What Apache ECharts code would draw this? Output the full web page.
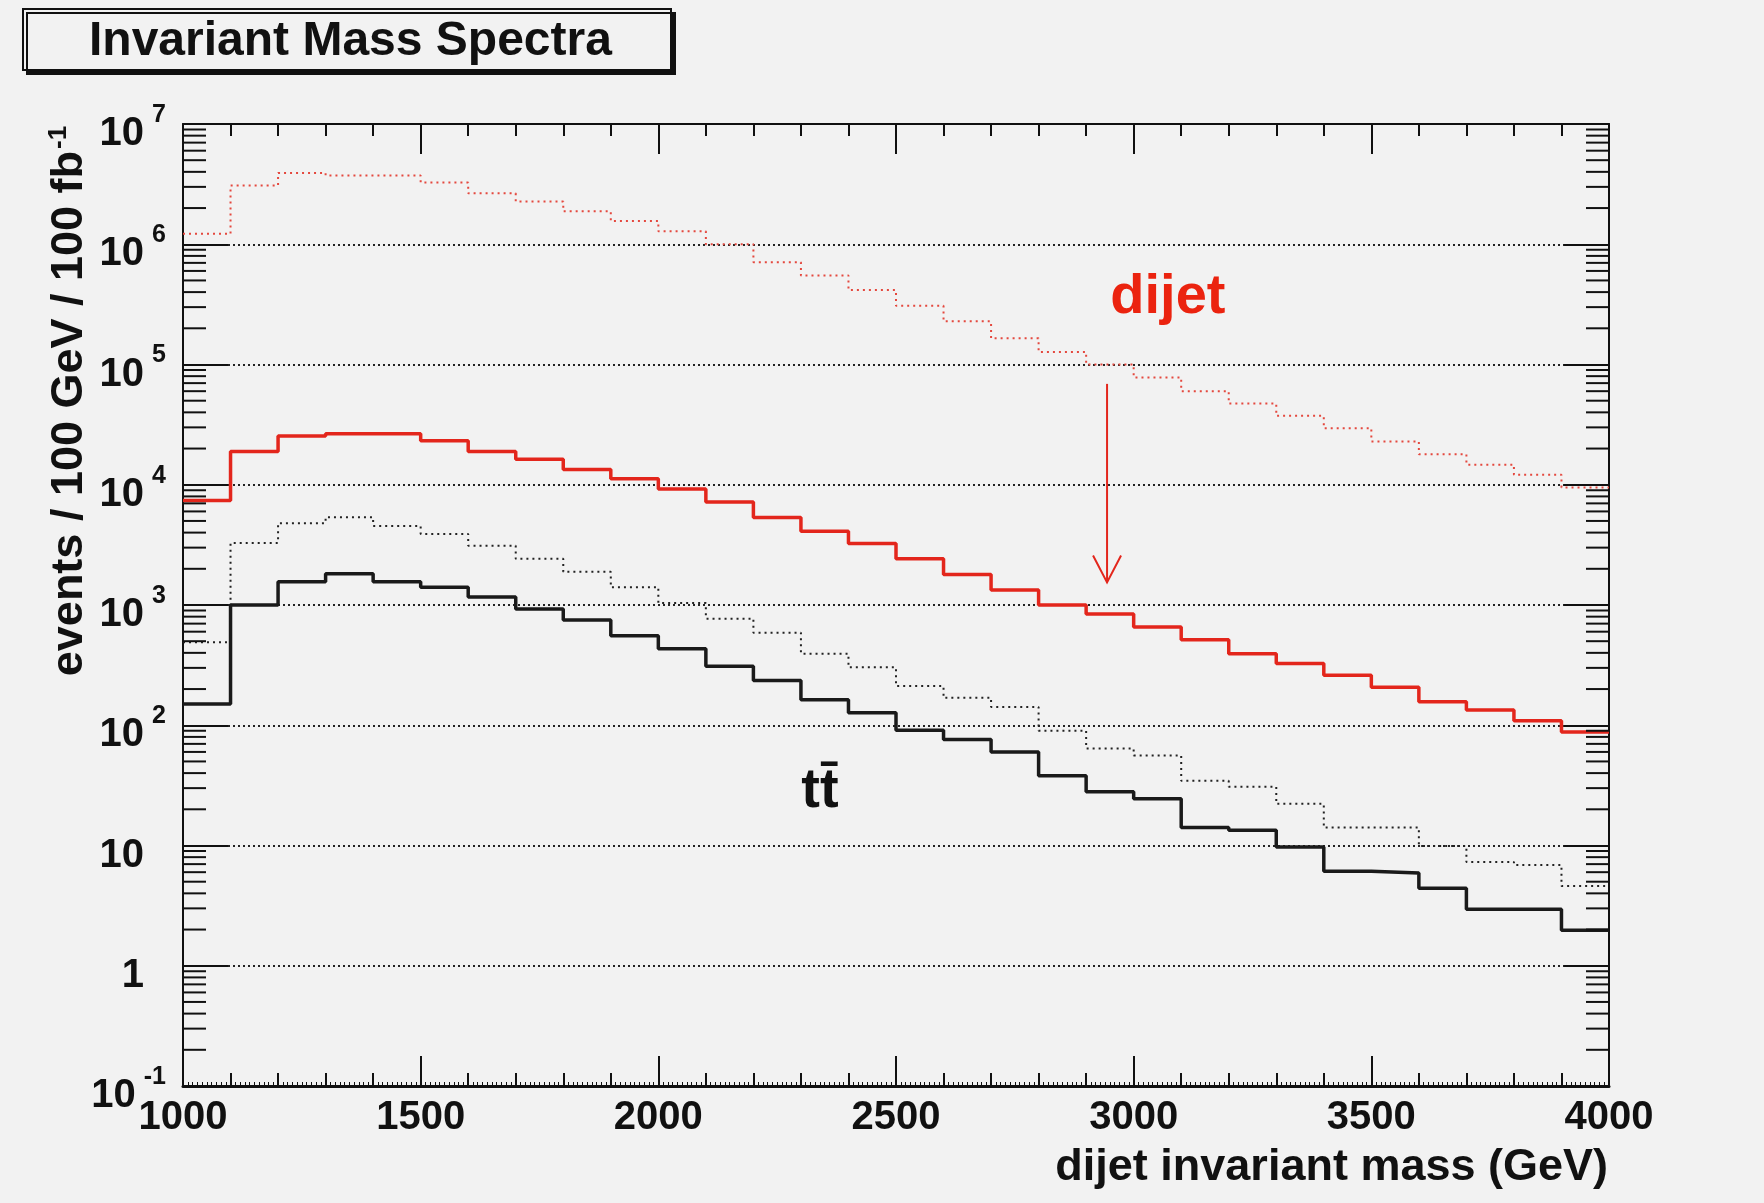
<!DOCTYPE html>
<html>
<head>
<meta charset="utf-8">
<script src="https://cdn.jsdelivr.net/npm/echarts@6/dist/echarts.min.js"></script>
<style>
  html, body { margin: 0; padding: 0; background: #f2f2f2; }
  #chart { width: 1764px; height: 1203px; }
</style>
</head>
<body>
<div id="chart"></div>
<script>
// ---------------- data ----------------
const binEdges = [1000, 1100, 1200, 1300, 1400, 1500, 1600, 1700, 1800, 1900,
                  2000, 2100, 2200, 2300, 2400, 2500, 2600, 2700, 2800, 2900,
                  3000, 3100, 3200, 3300, 3400, 3500, 3600, 3700, 3800, 3900, 4000];

// dijet background, before cut (red dotted)
const dijetBefore = [1.22e6, 3.08e6, 3.92e6, 3.73e6, 3.73e6, 3.26e6, 2.65e6, 2.27e6, 1.88e6, 1.56e6,
                     1.28e6, 1.0e6, 7.1e5, 5.5e5, 4.16e5, 3.08e5, 2.29e5, 1.65e5, 1.27e5, 1.0e5,
                     7.8e4, 6.0e4, 4.73e4, 3.74e4, 2.95e4, 2.29e4, 1.79e4, 1.47e4, 1.21e4, 9.5e3];
// dijet background, after cut (red solid)
const dijetAfter = [7.4e3, 1.89e4, 2.54e4, 2.66e4, 2.66e4, 2.32e4, 1.89e4, 1.63e4, 1.34e4, 1.12e4,
                    9.2e3, 7.2e3, 5.33e3, 4.11e3, 3.24e3, 2.43e3, 1.79e3, 1.33e3, 1.0e3, 840,
                    655, 514, 394, 327, 260, 207, 157, 134, 109, 88];
// ttbar, before cut (black dotted)
const ttbarBefore = [490, 3280, 4790, 5370, 4540, 3900, 3115, 2423, 1888, 1405,
                     1038, 770, 589, 394, 303, 212, 169, 142, 90, 64,
                     56, 34.5, 30.8, 22.2, 14.1, 14.1, 9.9, 7.3, 6.9, 4.6];
// ttbar, after cut (black solid)
const ttbarAfter = [150, 1000, 1563, 1820, 1563, 1405, 1164, 927, 750, 554,
                    432, 310, 236, 163, 127, 91, 76, 60, 38, 28,
                    24.5, 14.1, 13.4, 9.7, 6.1, 5.9, 4.4, 2.95, 2.95, 1.97];

// axis ticks
const xTickLabels = [1000, 1500, 2000, 2500, 3000, 3500, 4000];
const yExponents = [-1, 0, 1, 2, 3, 4, 5, 6, 7];
const logMinorMultipliers = [2, 3, 4, 5, 6, 7, 8, 9];

// annotations (data coordinates)
const annotationText = ['dijet', 'tt\u0304'];
const annotationX = [3072, 2340];
const annotationY = [3.57e5, 27.9];
const arrowX = [2944];
const arrowFrom = [6.9e4];
const arrowTo = [1.54e3];

// ---------------- build ----------------
const FONT = '"Liberation Sans", Arial, Helvetica, sans-serif';
const RED = '#e3261c';
const INK = '#111111';

function stepData(values) {
  return binEdges.map((e, i) => [e, values[Math.min(i, values.length - 1)]]);
}

const minorTickValues = [];
yExponents.slice(0, -1).forEach(e => {
  logMinorMultipliers.forEach(m => minorTickValues.push([binEdges[0], m * Math.pow(10, e)]));
});

const chart = echarts.init(document.getElementById('chart'), null, { renderer: 'canvas' });

const yLabelRich = {
  m: { fontSize: 40, fontWeight: 'bold', fontFamily: FONT, color: INK, lineHeight: 40, padding: [20, 0, 0, 0] },
  s: { fontSize: 25, fontWeight: 'bold', fontFamily: FONT, color: INK, lineHeight: 25, padding: [0, 0, 18, 8] },
  p: { fontSize: 25, fontFamily: FONT, color: 'rgba(0,0,0,0)', lineHeight: 25, width: 22, padding: [0, 0, 18, 0] }
};

const option = {
  backgroundColor: '#f2f2f2',
  animation: false,
  title: {
    text: 'Invariant Mass Spectra',
    left: 89, top: 18, padding: 0,
    textStyle: { fontSize: 48, fontWeight: 'bold', fontFamily: FONT, color: INK, lineHeight: 48 },
    z: 10
  },
  graphic: [
    {
      type: 'rect', z: 1,
      shape: { x: 23, y: 9, width: 648, height: 61 },
      style: { fill: '#f2f2f2', stroke: INK, lineWidth: 2, shadowColor: '#111', shadowOffsetX: 4, shadowOffsetY: 4, shadowBlur: 0 }
    },
    {
      type: 'text', z: 10,
      x: 70, y: 401, rotation: Math.PI / 2,
      style: {
        text: '{m|events / 100 GeV / 100 fb}{s|-1}',
        align: 'center', verticalAlign: 'middle',
        rich: {
          m: { fontSize: 45, fontWeight: 'bold', fontFamily: FONT, fill: INK, lineHeight: 45 },
          s: { fontSize: 26, fontWeight: 'bold', fontFamily: FONT, fill: INK, lineHeight: 26, padding: [0, 0, 22, 2] }
        }
      }
    },
    {
      type: 'text', z: 10,
      x: 1608, y: 1168,
      style: {
        text: 'dijet invariant mass (GeV)',
        fill: INK, font: 'bold 45px ' + FONT, align: 'right', verticalAlign: 'middle'
      }
    }
  ],
  grid: { left: 183, top: 124, right: 155, bottom: 117, containLabel: false, outerBoundsMode: 'none' },
  xAxis: [
    {
      type: 'value', position: 'bottom', min: 1000, max: 4000, interval: 500,
      axisLine: { show: true, lineStyle: { color: INK, width: 3 } },
      axisTick: { show: true, inside: true, length: 30, lineStyle: { color: INK, width: 2 } },
      minorTick: { show: true, splitNumber: 5, length: 13, lineStyle: { color: INK, width: 2 } },
      axisLabel: { show: true, margin: 12, fontSize: 40, fontWeight: 'bold', fontFamily: FONT, color: INK, lineHeight: 40,
                   formatter: v => xTickLabels.includes(v) ? String(v) : '' },
      splitLine: { show: false }, minorSplitLine: { show: false }
    },
    {
      type: 'value', position: 'top', min: 1000, max: 4000, interval: 500,
      axisLine: { show: true, lineStyle: { color: INK, width: 2 } },
      axisTick: { show: true, inside: true, length: 30, lineStyle: { color: INK, width: 2 } },
      minorTick: { show: true, splitNumber: 5, length: 12, lineStyle: { color: INK, width: 2 } },
      axisLabel: { show: false }, splitLine: { show: false }
    },
    {
      type: 'value', position: 'bottom', min: 1000, max: 4000, interval: 100,
      axisLine: { show: false },
      axisTick: { show: false, inside: true },
      minorTick: { show: true, splitNumber: 10, length: 4, lineStyle: { color: INK, width: 1 } },
      axisLabel: { show: false }, splitLine: { show: false }
    }
  ],
  yAxis: [
    {
      type: 'log', logBase: 10, min: 0.1, max: 1e7, position: 'left', splitNumber: 8,
      axisLine: { show: true, lineStyle: { color: INK, width: 2 } },
      axisTick: { show: true, inside: true, length: 45, lineStyle: { color: INK, width: 2 } },
      axisLabel: {
        show: true, margin: 17,
        formatter: v => {
          const e = Math.round(Math.log10(v));
          if (!yExponents.includes(e)) return '';
          if (e === 0) return '{m|1}{p| }';
          if (e === 1) return '{m|10}{p| }';
          return '{m|10}{s|' + e + '}';
        },
        rich: yLabelRich
      },
      splitLine: { show: true, lineStyle: { color: '#222', width: 2, type: [2, 3] } }
    },
    {
      type: 'log', logBase: 10, min: 0.1, max: 1e7, position: 'right', splitNumber: 8,
      axisLine: { show: true, lineStyle: { color: INK, width: 2 } },
      axisTick: { show: true, inside: true, length: 45, lineStyle: { color: INK, width: 2 } },
      axisLabel: { show: false }, splitLine: { show: false }
    }
  ],
  series: [
    {
      name: 'dijet (before cut)', type: 'line', step: 'end', xAxisIndex: 0, yAxisIndex: 0,
      data: stepData(dijetBefore), symbol: 'none', z: 3,
      lineStyle: { color: '#e4483e', width: 2, type: [2, 4] }
    },
    {
      name: 'ttbar (before cut)', type: 'line', step: 'end', xAxisIndex: 0, yAxisIndex: 0,
      data: stepData(ttbarBefore), symbol: 'none', z: 3,
      lineStyle: { color: '#222', width: 2, type: [2, 4] }
    },
    {
      name: 'dijet (after cut)', type: 'line', step: 'end', xAxisIndex: 0, yAxisIndex: 0,
      data: stepData(dijetAfter), symbol: 'none', z: 4,
      lineStyle: { color: RED, width: 3.5 }
    },
    {
      name: 'ttbar (after cut)', type: 'line', step: 'end', xAxisIndex: 0, yAxisIndex: 0,
      data: stepData(ttbarAfter), symbol: 'none', z: 4,
      lineStyle: { color: '#1a1a1a', width: 3.5 }
    },
    {
      name: 'log minor ticks', type: 'custom', xAxisIndex: 0, yAxisIndex: 0, silent: true, z: 5,
      data: minorTickValues, encode: { x: 0, y: 1 },
      renderItem: (params, api) => {
        const yv = api.value(1);
        const pl = api.coord([1000, yv]);
        const pr = api.coord([4000, yv]);
        const st = { stroke: INK, lineWidth: 2 };
        return {
          type: 'group', children: [
            { type: 'line', shape: { x1: pl[0], y1: pl[1], x2: pl[0] + 23, y2: pl[1] }, style: st },
            { type: 'line', shape: { x1: pr[0] - 23, y1: pr[1], x2: pr[0], y2: pr[1] }, style: st }
          ]
        };
      }
    },
    {
      name: 'arrow', type: 'custom', xAxisIndex: 0, yAxisIndex: 0, silent: true, z: 6,
      data: arrowX.map((x, i) => [x, arrowFrom[i], arrowTo[i]]),
      encode: { x: 0, y: [1, 2] },
      renderItem: (params, api) => {
        const p1 = api.coord([api.value(0), api.value(1)]);
        const p2 = api.coord([api.value(0), api.value(2)]);
        return {
          type: 'group', children: [
            { type: 'line', shape: { x1: p1[0], y1: p1[1], x2: p2[0], y2: p2[1] }, style: { stroke: RED, lineWidth: 2 } },
            { type: 'polyline', shape: { points: [[p2[0] - 14, p2[1] - 27], [p2[0], p2[1]], [p2[0] + 14, p2[1] - 27]] },
              style: { stroke: RED, lineWidth: 2, fill: null } }
          ]
        };
      }
    },
    {
      name: 'labels', type: 'custom', xAxisIndex: 0, yAxisIndex: 0, silent: true, z: 7,
      data: annotationText.map((t, i) => [annotationX[i], annotationY[i], i]),
      encode: { x: 0, y: 1 },
      renderItem: (params, api) => {
        const i = api.value(2);
        const p = api.coord([api.value(0), api.value(1)]);
        const colors = ['#eb230f', INK];
        return {
          type: 'text', x: p[0], y: p[1],
          style: { text: annotationText[i], fill: colors[i], font: 'bold 56px ' + FONT, align: 'center', verticalAlign: 'middle' }
        };
      }
    }
  ]
};

chart.setOption(option);
</script>
</body>
</html>
